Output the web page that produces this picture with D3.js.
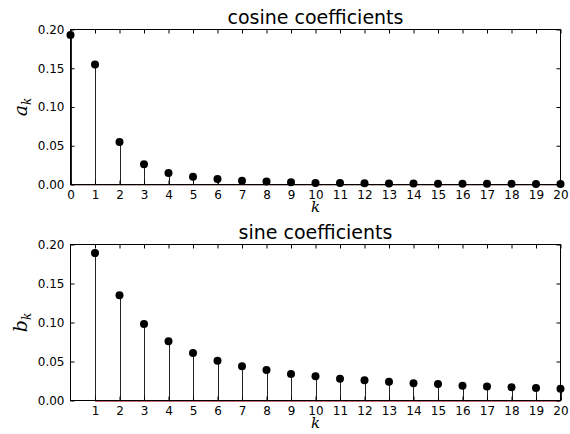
<!DOCTYPE html>
<html>
<head>
<meta charset="utf-8">
<script src="https://cdn.jsdelivr.net/npm/d3@7"></script>
<style>
  body { margin: 0; background: #fff; }
  svg { display: block; }
  .tick text { font-family: "DejaVu Sans", sans-serif; font-size: 12px; fill: #000; }
  .tick line { stroke: #000; }
  .domain { display: none; }
</style>
</head>
<body>
<svg width="570" height="434"></svg>
<script>
// cosine coefficients a_k, k = 0..20
const cosK = d3.range(0, 21);
const cosVals = [0.193, 0.155, 0.055, 0.026, 0.015, 0.010, 0.007, 0.005, 0.004, 0.003,
  0.002, 0.002, 0.0015, 0.0013, 0.0012, 0.0011, 0.001, 0.001, 0.0009, 0.0008, 0.0008];

// sine coefficients b_k, k = 1..20
const sinK = d3.range(1, 21);
const sinVals = [0.189, 0.135, 0.098, 0.076, 0.061, 0.051, 0.044, 0.039, 0.034, 0.031,
  0.028, 0.026, 0.024, 0.022, 0.021, 0.019, 0.018, 0.017, 0.016, 0.015];

const yTicks = [0, 0.05, 0.10, 0.15, 0.20];

const svg = d3.select('svg');

const panels = [
  { title: 'cosine coefficients', ylab: 'a', ks: cosK, vals: cosVals, top: 29.5, bottom: 184.5, xticks: d3.range(0, 21), base: '#8c5a5a', baseOff: 0.5 },
  { title: 'sine coefficients', ylab: 'b', ks: sinK, vals: sinVals, top: 244.5, bottom: 400.5, xticks: d3.range(1, 21), base: '#c46a6a', baseOff: 1 },
];

const left = 70.5;
const right = 560.5;

panels.forEach((p) => {
  const x = d3.scaleLinear().domain([0, 20]).range([left, right]);
  const y = d3.scaleLinear().domain([0, 0.2]).range([p.bottom, p.top]);

  const g = svg.append('g');

  // stems
  g.selectAll('line.stem')
    .data(p.vals)
    .join('line')
    .attr('class', 'stem')
    .attr('x1', (d, i) => Math.round(x(p.ks[i])) + 0.5)
    .attr('x2', (d, i) => Math.round(x(p.ks[i])) + 0.5)
    .attr('y1', y(0))
    .attr('y2', (d) => y(d))
    .attr('stroke', '#222')
    .attr('stroke-width', 1);

  // baseline
  g.append('line')
    .attr('x1', x(d3.min(p.ks)))
    .attr('x2', x(d3.max(p.ks)))
    .attr('y1', y(0) + p.baseOff)
    .attr('y2', y(0) + p.baseOff)
    .attr('stroke', p.base)
    .attr('stroke-width', 1);

  // axes with inward ticks
  g.append('g')
    .attr('transform', `translate(0,${p.bottom})`)
    .call(d3.axisBottom(x).tickValues(p.xticks).tickSize(-4).tickPadding(6).tickFormat(d3.format('d')));
  g.append('g')
    .attr('transform', `translate(0,${p.top})`)
    .call(d3.axisTop(x).tickValues(p.xticks).tickSize(-4).tickFormat(''));
  g.append('g')
    .attr('transform', `translate(${left},0)`)
    .call(d3.axisLeft(y).tickValues(yTicks).tickSize(-4).tickPadding(6).tickFormat(d3.format('.2f')));
  g.append('g')
    .attr('transform', `translate(${right},0)`)
    .call(d3.axisRight(y).tickValues(yTicks).tickSize(-4).tickFormat(''));

  // frame
  g.append('rect')
    .attr('x', left)
    .attr('y', p.top)
    .attr('width', right - left)
    .attr('height', p.bottom - p.top)
    .attr('fill', 'none')
    .attr('stroke', '#000')
    .attr('stroke-width', 1);

  // markers
  g.selectAll('circle')
    .data(p.vals)
    .join('circle')
    .attr('cx', (d, i) => x(p.ks[i]))
    .attr('cy', (d) => y(d))
    .attr('r', 4)
    .attr('fill', '#000');

  // title
  g.append('text')
    .attr('x', (left + right) / 2)
    .attr('y', p.top - 6)
    .attr('text-anchor', 'middle')
    .attr('font-family', 'DejaVu Sans, sans-serif')
    .attr('font-size', 19)
    .text(p.title);

  // x label
  g.append('text')
    .attr('x', (left + right) / 2)
    .attr('y', p.bottom + 27)
    .attr('text-anchor', 'middle')
    .attr('font-family', 'DejaVu Serif, serif')
    .attr('font-style', 'italic')
    .attr('font-size', 15)
    .text('k');

  // y label
  const yl = g.append('text')
    .attr('transform', `translate(27,${(p.top + p.bottom) / 2}) rotate(-90)`)
    .attr('text-anchor', 'middle')
    .attr('font-family', 'DejaVu Serif, serif')
    .attr('font-style', 'italic')
    .attr('font-size', 19);
  yl.append('tspan').text(p.ylab);
  yl.append('tspan').attr('font-size', 12).attr('dy', 4).text('k');
});
</script>
</body>
</html>
